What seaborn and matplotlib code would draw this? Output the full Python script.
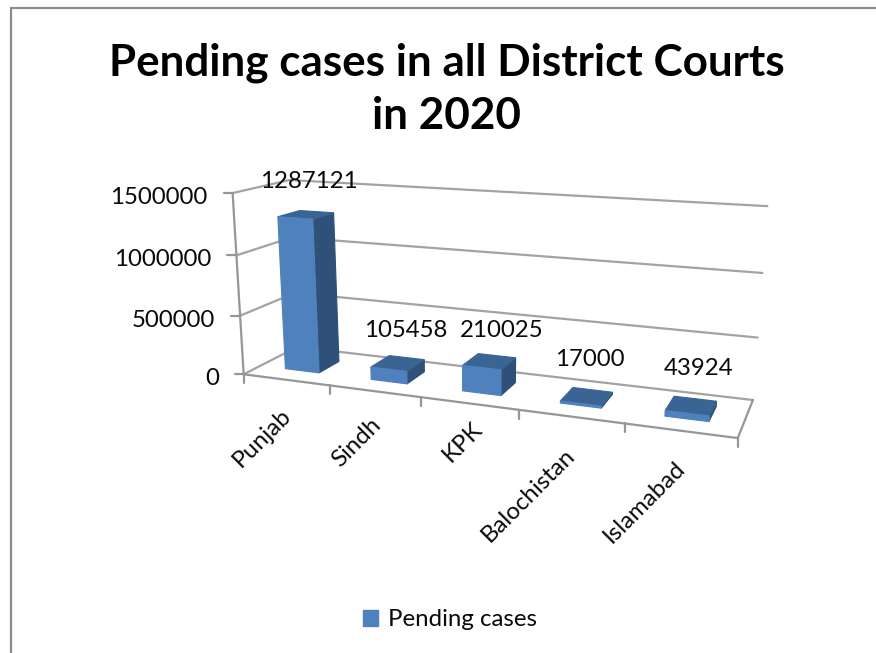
import numpy as np
import pandas as pd
import matplotlib
matplotlib.use("Agg")
import matplotlib.pyplot as plt
from matplotlib.patches import Polygon, Patch
import seaborn as sns

categories = ["Punjab", "Sindh", "KPK", "Balochistan", "Islamabad"]
pending_cases = [1287121, 105458, 210025, 17000, 43924]
value_ticks = [0, 500000, 1000000, 1500000]
series_name = "Pending cases"
title = "Pending cases in all District Courts\nin 2020"

sns.set_theme(style="white")
plt.rcParams["font.family"] = ["Lato", "DejaVu Sans"]

W, H = 876, 653
fig = plt.figure(figsize=(W / 100, H / 100), dpi=100, facecolor="white")
ax_bars = fig.add_axes([0, 0, 1, 1])
df = pd.DataFrame({"cat": categories, "val": pending_cases})
sns.barplot(data=df, x="cat", y="val", width=0.4, ax=ax_bars)
bars = list(ax_bars.patches)
ax_bars.set_visible(False)

ax = fig.add_axes([0, 0, 1, 1])
ax.set_xlim(0, W)
ax.set_ylim(H, 0)
ax.axis("off")

# camera calibration: (category position, value / axis max, depth) -> pixel
YMAX = value_ticks[-1]
calib = [
    (0, 0, 0, 244.3, 374), (1, 0, 0, 331, 385.2), (2, 0, 0, 421, 397),
    (3, 0, 0, 519, 409.6), (4, 0, 0, 625, 423.4), (5, 0, 0, 738, 438),
    (0, 1 / 3, 0, 240, 316), (0, 2 / 3, 0, 235.7, 256), (0, 1, 0, 231.7, 193.3),
    (0, 0, 1, 296, 347), (5, 0, 1, 753, 400.7), (5, 1 / 3, 1, 757.3, 337.7),
    (5, 2 / 3, 1, 762.7, 272.7), (5, 1, 1, 767, 206), (0, 1, 1, 291, 179.6),
]
A = []
for X, Y, Z, u, v in calib:
    A.append([X, Y, Z, 1, 0, 0, 0, 0, -u * X, -u * Y, -u * Z, -u])
    A.append([0, 0, 0, 0, X, Y, Z, 1, -v * X, -v * Y, -v * Z, -v])
P = np.linalg.svd(np.array(A))[2][-1].reshape(3, 4)


def proj(X, val, Z):
    q = P @ np.array([X, val / YMAX, Z, 1.0])
    return q[0] / q[2], q[1] / q[2]


GRID = "#A3A3A3"
AXC = "#969696"
lw = 1.6
TXT = "#0A0A0A"
FS = 17.3


def seg(a, b, c=GRID):
    ax.plot([a[0], b[0]], [a[1], b[1]], color=c, lw=lw, solid_capstyle="round", zorder=2)


# outer chart border
ax.plot([11, 11, W], [H, 7.5, 7.5], color="#8C8C8C", lw=1.6, solid_joinstyle="miter", zorder=1)

# walls, floor, axes
for v in value_ticks:
    seg(proj(0, v, 0), proj(0, v, 1))
    seg(proj(0, v, 1), proj(5, v, 1))
    a = proj(0, v, 0)
    seg(a, (a[0] - 9, a[1]), AXC)
    ax.text(a[0] - 25, a[1] + 4.5, str(v), ha="right", va="center", fontsize=FS, color=TXT, zorder=5)
seg(proj(0, 0, 0), proj(0, YMAX, 0), AXC)
seg(proj(0, 0, 0), proj(5, 0, 0), AXC)
seg(proj(5, 0, 0), proj(5, 0, 1), AXC)
for i in range(6):
    a = proj(i, 0, 0)
    seg(a, (a[0], a[1] + 9), AXC)

# small placement nudges for the renderer's automatic label layout
value_label_nudge = [(3, -33), (8, -33), (12, -31), (3, -37), (7, -37)]
cat_label_nudge = [(2, 32), (3, 30), (9, 22), (0, 35), (2, 34)]

FRONT, SIDE, TOP = "#4F81BD", "#2F5179", "#3A6494"
Z0, Z1 = 0.3, 0.7
for i, b in enumerate(bars):
    x0 = b.get_x() + 0.5
    x1 = x0 + b.get_width()
    h = b.get_height()
    faces = [
        ([proj(x1, 0, Z0), proj(x1, 0, Z1), proj(x1, h, Z1), proj(x1, h, Z0)], SIDE),
        ([proj(x0, h, Z0), proj(x1, h, Z0), proj(x1, h, Z1), proj(x0, h, Z1)], TOP),
        ([proj(x0, 0, Z0), proj(x1, 0, Z0), proj(x1, h, Z0), proj(x0, h, Z0)], FRONT),
    ]
    for pts, col in faces:
        ax.add_patch(Polygon(pts, closed=True, facecolor=col, edgecolor=col, lw=0.8, zorder=3))
    top = proj((x0 + x1) / 2, h, (Z0 + Z1) / 2)
    dx, dy = value_label_nudge[i]
    ax.text(top[0] + dx, top[1] + dy, str(int(h)), ha="center", va="center",
            fontsize=FS, color=TXT, zorder=6)
    base = proj(i + 0.5, 0, 0)
    dx, dy = cat_label_nudge[i]
    ax.text(base[0] + dx, base[1] + dy, categories[i], rotation=45, rotation_mode="anchor",
            ha="right", va="center", fontsize=FS, color=TXT, zorder=5)

ax.text(447, 89, title, ha="center", va="center", fontsize=31.7, fontweight="bold",
        color="black", linespacing=1.4, zorder=5)

ax.legend(handles=[Patch(facecolor=FRONT, edgecolor=FRONT, label=series_name)],
          loc="center", bbox_to_anchor=(450, 620), bbox_transform=ax.transData,
          frameon=False, fontsize=FS, handlelength=0.62, handleheight=0.62,
          handletextpad=0.4, labelcolor=TXT)

fig.savefig("out.png", dpi=100, facecolor="white")
